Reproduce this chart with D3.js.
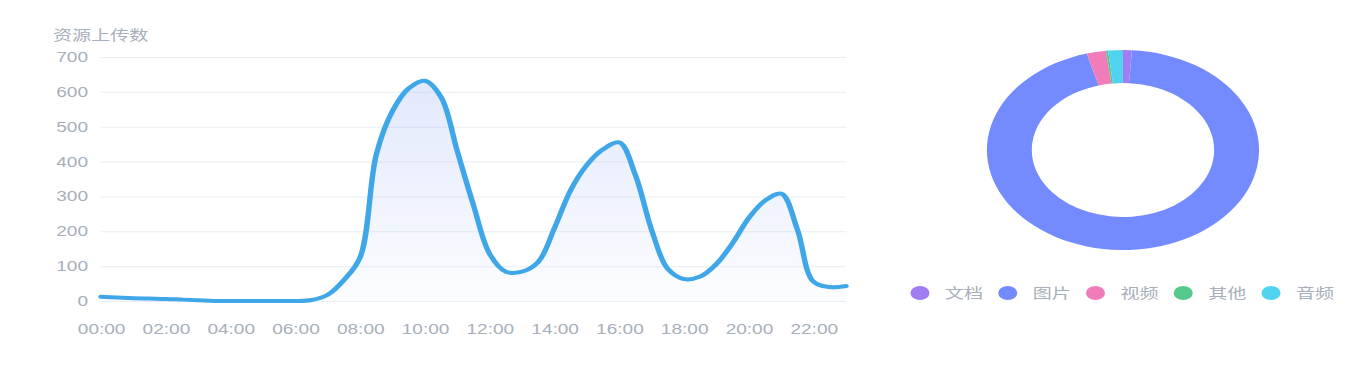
<!DOCTYPE html>
<html>
<head>
<meta charset="utf-8">
<script src="https://cdn.jsdelivr.net/npm/d3@7/dist/d3.min.js"></script>
<style>
  html, body { margin: 0; padding: 0; background: #fff; }
  svg { display: block; }
  text { font-family: "Liberation Sans", "Noto Sans CJK SC", sans-serif; }
</style>
</head>
<body>
<div id="chart"></div>
<script>
// upload counts per half hour
const times = [
  '00:00', '00:30', '01:00', '01:30', '02:00', '02:30', '03:00', '03:30',
  '04:00', '04:30', '05:00', '05:30', '06:00', '06:30', '07:00', '07:30',
  '08:00', '08:30', '09:00', '09:30', '10:00', '10:30', '11:00', '11:30',
  '12:00', '12:30', '13:00', '13:30', '14:00', '14:30', '15:00', '15:30',
  '16:00', '16:30', '17:00', '17:30', '18:00', '18:30', '19:00', '19:30',
  '20:00', '20:30', '21:00', '21:30', '22:00', '22:30', '23:00'
];
const uploads = [
  12, 10, 8, 7, 6, 4, 2, 0,
  0, 0, 0, 0, 0, 3, 18, 60,
  125, 420, 545, 610, 632, 585, 430, 275,
  135, 84, 84, 112, 209, 318, 390, 435,
  455, 361, 204, 92, 63, 70, 106, 166,
  238, 288, 308, 205, 55, 40, 43
];
const xTickLabels = ['00:00', '02:00', '04:00', '06:00', '08:00', '10:00',
  '12:00', '14:00', '16:00', '18:00', '20:00', '22:00'];
const yTicks = [0, 100, 200, 300, 400, 500, 600, 700];

// resource types
const typeNames = ['文档', '图片', '视频', '其他', '音频'];
const typeValues = [12, 1080, 26, 3, 20];
const typeColors = ['#a17cf3', '#748aff', '#f07db9', '#55c98b', '#4fd3ef'];

// the picture is stretched sideways, so draw in a narrower viewBox
const W = 1351, H = 375, VW = 993;

const svg = d3.select('#chart')
  .append('svg')
  .attr('width', W)
  .attr('height', H)
  .attr('viewBox', '0 0 ' + VW + ' ' + H)
  .attr('preserveAspectRatio', 'none');

// ---- line chart ----
const plot = { left: 74.2, right: 621.8, top: 57, bottom: 301 };

const x = d3.scalePoint()
  .domain(times)
  .range([plot.left, plot.right]);

const y = d3.scaleLinear()
  .domain([0, 700])
  .range([plot.bottom, plot.top]);

const defs = svg.append('defs');
const grad = defs.append('linearGradient')
  .attr('id', 'areaFill')
  .attr('x1', 0).attr('y1', 0).attr('x2', 0).attr('y2', 1);
grad.append('stop').attr('offset', '0%').attr('stop-color', '#6f8ff0').attr('stop-opacity', 0.2);
grad.append('stop').attr('offset', '100%').attr('stop-color', '#6f8ff0').attr('stop-opacity', 0.02);

const yAxis = svg.append('g')
  .attr('transform', 'translate(' + plot.left + ',0)')
  .call(d3.axisLeft(y)
    .tickValues(yTicks)
    .tickSize(-(plot.right - plot.left))
    .tickPadding(9.5));
yAxis.select('.domain').remove();
yAxis.selectAll('line').attr('stroke', '#e9eef4');
yAxis.selectAll('text')
  .attr('fill', '#a7afba')
  .style('font-size', '14px');

const xAxis = svg.append('g')
  .attr('transform', 'translate(0,' + plot.bottom + ')')
  .call(d3.axisBottom(x)
    .tickValues(xTickLabels)
    .tickSize(0)
    .tickPadding(23));
xAxis.select('.domain').remove();
xAxis.selectAll('text')
  .attr('fill', '#a7afba')
  .style('font-size', '14px');

const curve = d3.curveCatmullRom.alpha(0.5);

const area = d3.area()
  .x((d, i) => x(times[i]))
  .y0(plot.bottom)
  .y1(d => Math.min(y(d), plot.bottom))
  .curve(curve);

const line = d3.line()
  .x((d, i) => x(times[i]))
  .y(d => y(d))
  .curve(curve);

svg.append('path')
  .datum(uploads)
  .attr('fill', 'url(#areaFill)')
  .attr('d', area);

svg.append('path')
  .datum(uploads)
  .attr('fill', 'none')
  .attr('stroke', '#3fa7e8')
  .attr('stroke-width', 4)
  .attr('stroke-linejoin', 'round')
  .attr('stroke-linecap', 'round')
  .attr('d', line);

svg.append('text')
  .attr('x', 39)
  .attr('y', 40)
  .attr('fill', '#a7afba')
  .style('font-size', '14px')
  .text('资源上传数');

// ---- donut ----
const cx = 825.4, cy = 150;
const pie = d3.pie().sort(null);
const arc = d3.arc().innerRadius(67).outerRadius(100);

svg.append('g')
  .attr('transform', 'translate(' + cx + ',' + cy + ')')
  .selectAll('path')
  .data(pie(typeValues))
  .join('path')
  .attr('fill', (d, i) => typeColors[i])
  .attr('d', arc);

// ---- legend ----
const legendX = d3.scalePoint()
  .domain(typeNames)
  .range([676.2, 934.2]);

const legend = svg.append('g')
  .selectAll('g')
  .data(typeNames)
  .join('g')
  .attr('transform', d => 'translate(' + legendX(d) + ',293)');

legend.append('circle')
  .attr('r', 7)
  .attr('fill', (d, i) => typeColors[i]);

legend.append('text')
  .attr('x', 18.4)
  .attr('dy', '0.36em')
  .attr('fill', '#a7afba')
  .style('font-size', '14px')
  .text(d => d);
</script>
</body>
</html>
